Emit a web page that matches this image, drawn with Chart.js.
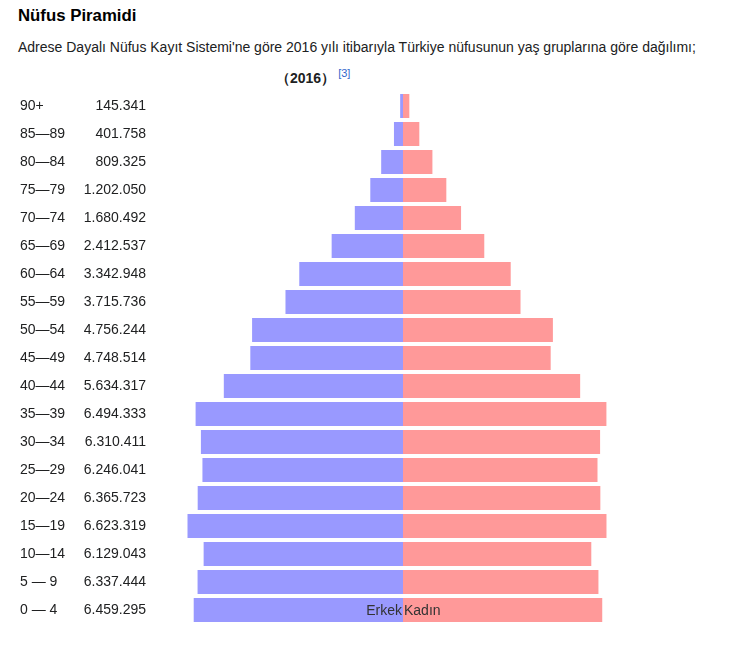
<!DOCTYPE html>
<html lang="tr">
<head>
<meta charset="utf-8">
<title>Nüfus Piramidi</title>
<script src="https://cdn.jsdelivr.net/npm/chart.js@4"></script>
<style>
  html, body { margin: 0; padding: 0; background: #fff; }
  body { width: 733px; height: 649px; position: relative; font-family: "Liberation Sans", Arial, sans-serif; color: #202122; }
  .title { position: absolute; left: 18px; top: 6px; line-height: 20px; font-size: 16.8px; font-weight: bold; color: #000; }
  .sub { position: absolute; left: 18px; top: 37px; line-height: 20px; font-size: 14px; }
  .year { position: absolute; left: 276px; top: 63px; line-height: 20px; font-size: 14px; font-weight: bold; }
  .year sup { font-size: 11px; font-weight: normal; color: #3366cc; margin-left: 3px; }
  #pyramid { position: absolute; left: 0; top: 88px; }
</style>
</head>
<body>
<div class="title">Nüfus Piramidi</div>
<div class="sub">Adrese Dayalı Nüfus Kayıt Sistemi'ne göre 2016 yılı itibarıyla Türkiye nüfusunun yaş gruplarına göre dağılımı;</div>
<div class="year">（2016）<sup>[3]</sup></div>
<canvas id="pyramid" width="733" height="540"></canvas>
<script>
// Age groups, top of the pyramid first
const ageGroups = ['90+', '85—89', '80—84', '75—79', '70—74', '65—69', '60—64', '55—59', '50—54',
  '45—49', '40—44', '35—39', '30—34', '25—29', '20—24', '15—19', '10—14', '5 — 9', '0 — 4'];
const totals = ['145.341', '401.758', '809.325', '1.202.050', '1.680.492', '2.412.537', '3.342.948', '3.715.736', '4.756.244',
  '4.748.514', '5.634.317', '6.494.333', '6.310.411', '6.246.041', '6.365.723', '6.623.319', '6.129.043', '6.337.444', '6.459.295'];
// Erkek / Kadın
const male = [45000, 143000, 345000, 517000, 762000, 1128000, 1640000, 1858000, 2386000,
  2414000, 2833000, 3279000, 3195000, 3171000, 3246000, 3407000, 3152000, 3248000, 3309000];
const female = [100000, 258000, 465000, 685000, 918000, 1285000, 1703000, 1858000, 2370000,
  2335000, 2801000, 3216000, 3116000, 3075000, 3120000, 3217000, 2977000, 3090000, 3150000];

const tickFont = { family: '"Liberation Sans", Arial, sans-serif', size: 14 };

// "Erkek" / "Kadın" written on the bottom bar, either side of the centre line
const sexLabels = {
  id: 'sexLabels',
  afterDatasetsDraw(chart) {
    const c = chart.ctx;
    const x0 = chart.scales.x.getPixelForValue(0);
    const y = chart.scales.yAge.getPixelForValue(ageGroups.length - 1) + 1;
    c.save();
    c.font = '14px "Liberation Sans", Arial, sans-serif';
    c.fillStyle = '#333';
    c.textBaseline = 'middle';
    c.textAlign = 'right';
    c.fillText('Erkek', x0 - 1, y);
    c.textAlign = 'left';
    c.fillText('Kadın', x0 + 1, y);
    c.restore();
  }
};

// fixed column widths, and no extra room above/below for the label halves
function fitColumn(w) {
  return s => { s.width = w; s.paddingTop = 0; s.paddingBottom = 0; };
}

new Chart(document.getElementById('pyramid'), {
  type: 'bar',
  data: {
    labels: ageGroups,
    datasets: [
      { label: 'Erkek', data: male.map(v => -v), backgroundColor: '#9999ff', yAxisID: 'yAge' },
      { label: 'Kadın', data: female, backgroundColor: '#ff9999', yAxisID: 'yAge' }
    ]
  },
  options: {
    indexAxis: 'y',
    responsive: false,
    animation: false,
    layout: { padding: { left: 20, right: 77, top: 4, bottom: 4 } },
    datasets: { bar: { barPercentage: 1, categoryPercentage: 24 / 28, borderWidth: 0 } },
    plugins: { legend: { display: false }, tooltip: { enabled: false } },
    scales: {
      x: { stacked: true, min: -4000000, max: 4000000, display: false },
      yAge: {
        type: 'category', position: 'left', stacked: true, offset: true, weight: 2,
        grid: { display: false, drawTicks: false }, border: { display: false },
        ticks: { crossAlign: 'far', padding: 0, color: '#202122', font: tickFont },
        afterFit: fitColumn(60)
      },
      yTot: {
        type: 'category', position: 'left', labels: totals, offset: true, weight: 1,
        grid: { display: false, drawTicks: false }, border: { display: false },
        ticks: { crossAlign: 'near', padding: 4, color: '#202122', font: tickFont },
        afterFit: fitColumn(70)
      }
    }
  },
  plugins: [sexLabels]
});
</script>
</body>
</html>
